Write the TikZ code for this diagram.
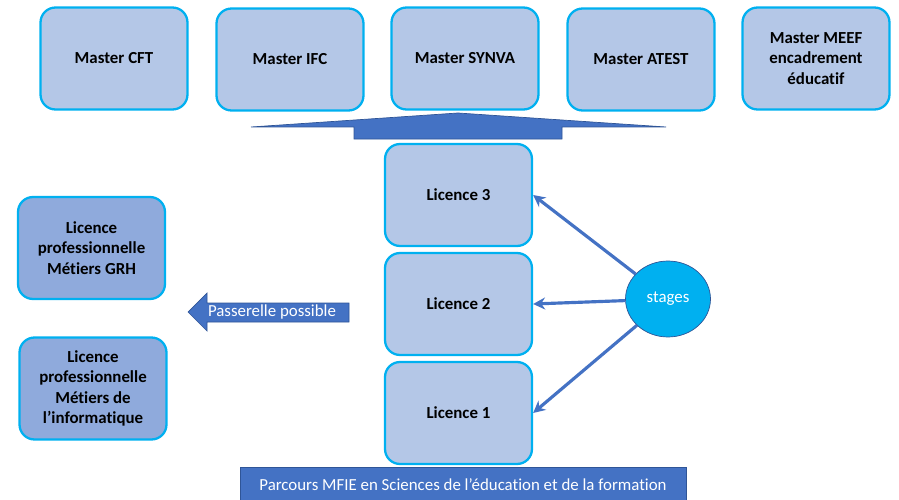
\documentclass[tikz,border=0pt]{standalone}
\usepackage{fontspec}
\setmainfont{Carlito}[Ligatures=NoCommon]
\usetikzlibrary{arrows.meta,shapes.geometric}
\definecolor{boxfill}{HTML}{B4C7E7}
\definecolor{boxdark}{HTML}{8FAADC}
\definecolor{cyanline}{HTML}{00B0F0}
\definecolor{accentblue}{HTML}{4472C4}
\definecolor{stagesline}{HTML}{2F5597}

\begin{document}
\begin{tikzpicture}[x=0.02cm, y=-0.02cm,
    diplome/.style={rectangle, rounded corners=0.3cm, draw=cyanline, line width=1.3pt, fill=#1, minimum width=2.94cm, minimum height=2.04cm, align=center, font=\fontsize{9.6}{11.5}\selectfont\bfseries},
    diplome/.default=boxfill,
    lien/.style={-{Stealth[length=2.4mm, width=2.4mm]}, line width=1.8pt, accentblue}
]
\useasboundingbox (0,0) rectangle (899,500);

% Masters (top row)
\node[diplome] (cft) at (114,58.5) {Master CFT};
\node[diplome] (ifc) at (290,59.5) {Master IFC};
\node[diplome] (synva) at (465,58.5) {Master SYNVA};
\node[diplome] (atest) at (641,59.5) {Master ATEST};
\node[diplome] (meef) at (816,58.5) {Master MEEF\\encadrement\\éducatif};

% Big arrow towards the masters
\draw[fill=accentblue, draw=stagesline, line width=0.4pt]
    (251,127) -- (458,113) -- (666,127) -- (562,127) -- (562,139) -- (354,139) -- (354,127) -- cycle;

% Licences (middle column)
\node[diplome] (l3) at (458.5,195) {Licence 3};
\node[diplome] (l2) at (458.5,304) {Licence 2};
\node[diplome] (l1) at (458.5,413) {Licence 1};

% Licences professionnelles (left)
\node[diplome=boxdark] (grh) at (91.5,248) {Licence\\professionnelle\\Métiers GRH};
\node[diplome=boxdark] (info) at (93,388.5) {Licence\\professionnelle\\Métiers de\\l’informatique};

% Passerelle
\draw[fill=accentblue, draw=stagesline, line width=0.4pt]
    (188,312) -- (207,293) -- (207,303) -- (349,303) -- (349,322) -- (207,322) -- (207,331) -- cycle;
\node[text=white, font=\fontsize{9.6}{11.5}\selectfont] (passerelle) at (272,312.5) {Passerelle possible};

% Stages
\node[ellipse, fill=cyanline, draw=stagesline, line width=0.4pt, minimum width=1.7cm, minimum height=1.52cm, inner sep=0pt, text=white, font=\fontsize{9.6}{11.5}\selectfont] (stages) at (668,299) {stages};
\draw[lien] (stages) -- (l3.east);
\draw[lien] (stages) -- (l2.east);
\draw[lien] (stages) -- (l1.east);

% Parcours (bottom bar)
\node[rectangle, fill=accentblue, draw=stagesline, line width=0.4pt, minimum width=8.92cm, minimum height=0.72cm, text=white, font=\fontsize{9.6}{11.5}\selectfont] (parcours) at (463,485) {Parcours MFIE en Sciences de l’éducation et de la formation};

\end{tikzpicture}
\end{document}
